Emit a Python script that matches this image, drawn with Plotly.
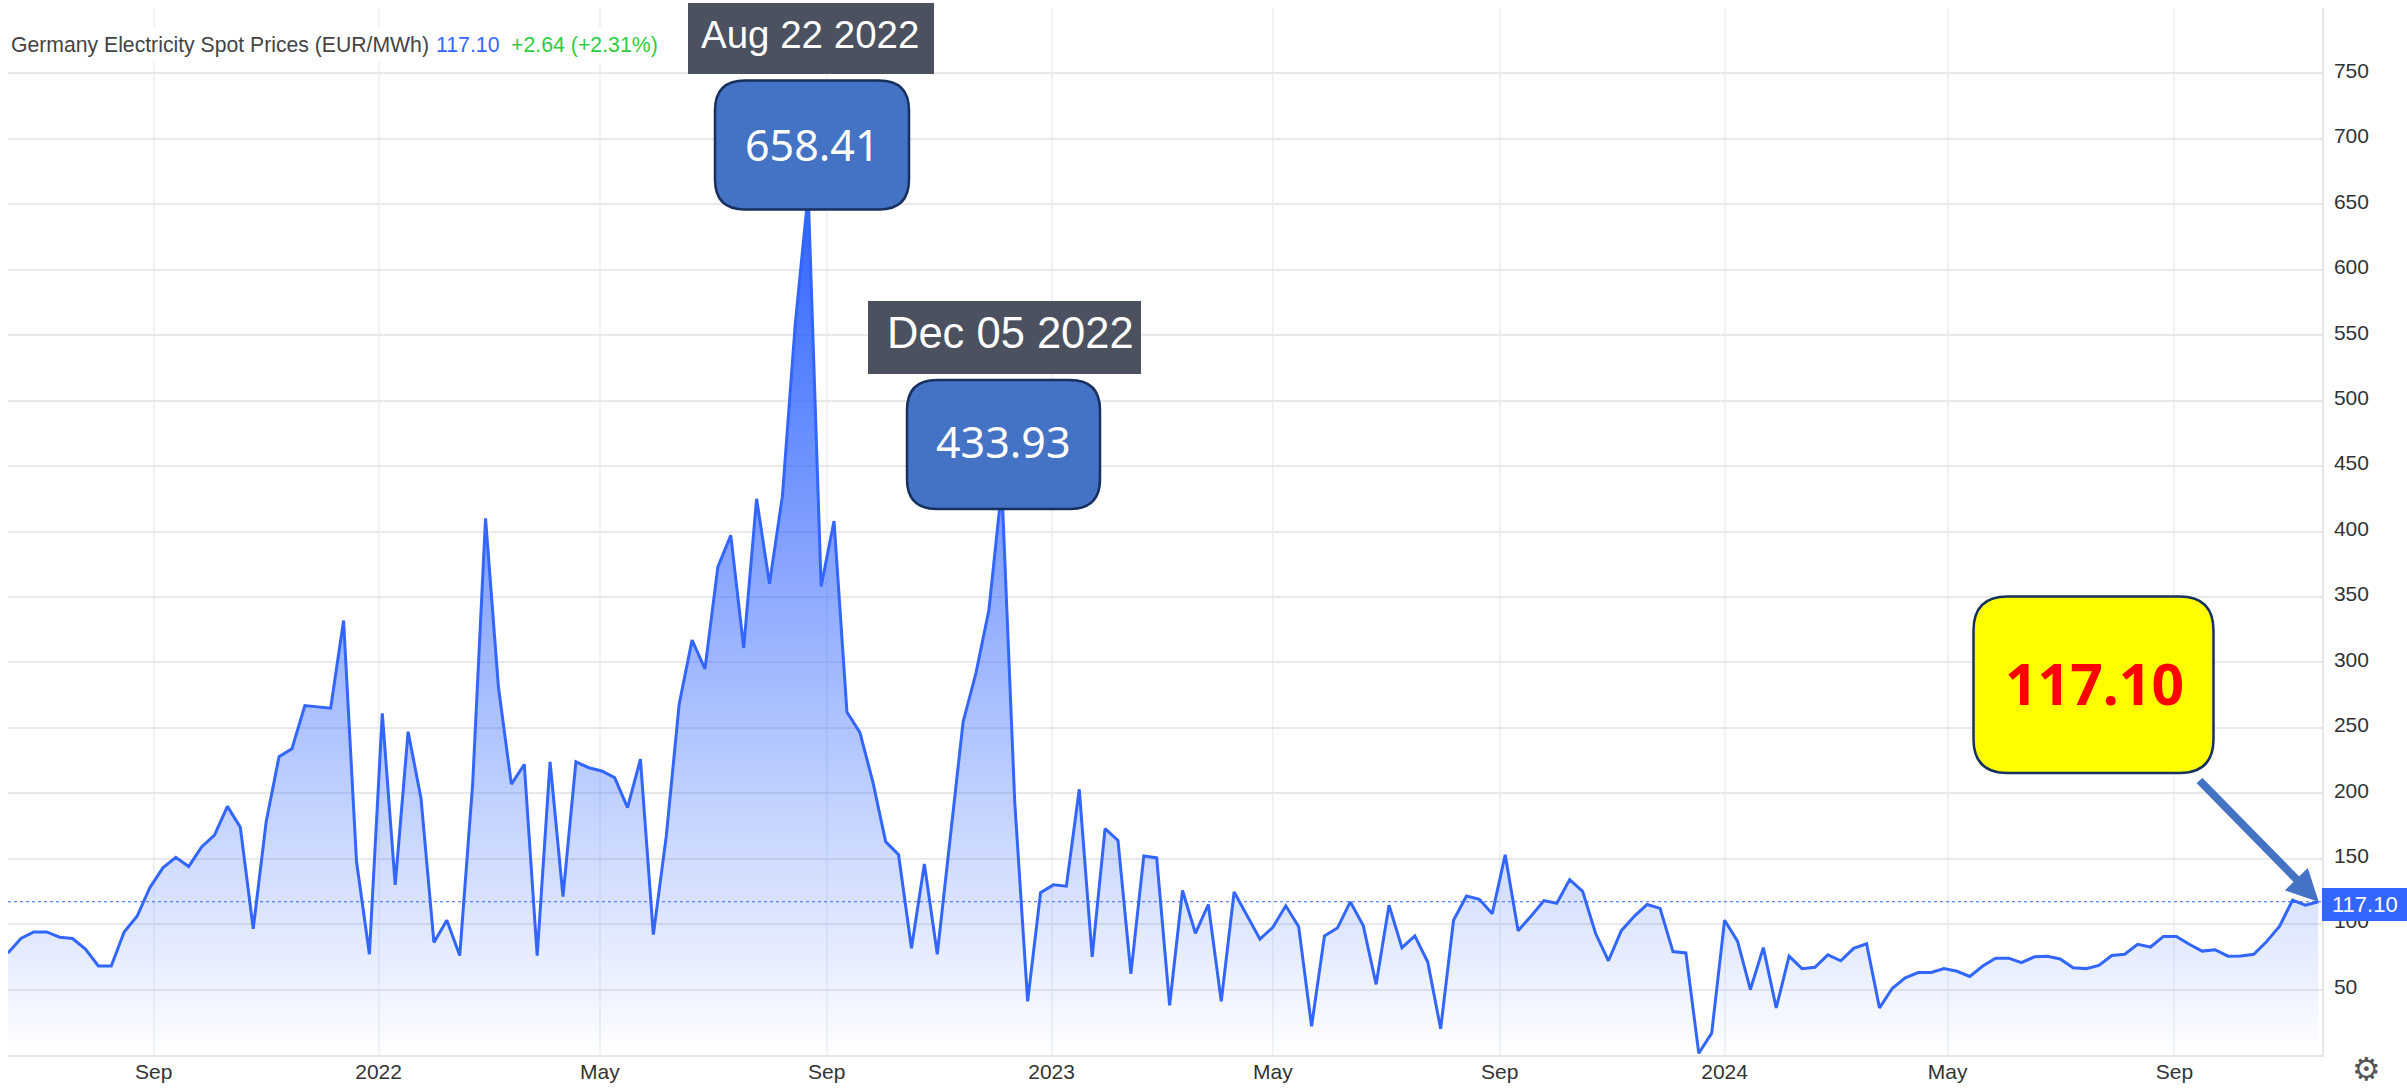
import pandas as pd
import plotly.graph_objects as go

W, H = 2407, 1088
L, R, T, B = 8, 2322, 8, 1055

prices = [
    78, 89, 94, 94, 90, 89, 81, 68, 68, 94, 106, 128, 143, 151, 144, 159, 168, 190, 174, 96.5,
    178, 228, 234, 267, 266, 265, 332, 148, 77, 261, 130, 247, 196, 86, 103, 76, 207, 410, 281, 207,
    222, 76, 224, 121, 224, 219.5, 217, 212, 189, 226, 92, 167, 268, 317, 295, 373, 397, 311, 425, 360,
    427, 559, 658.41, 358, 408, 262, 246.5, 209, 163, 153, 81.6, 146, 77, 164, 254.5, 292, 340, 433.93, 193.5, 41,
    124, 130, 129, 203, 75, 173, 164, 62, 152, 150.6, 38, 125.7, 93, 115, 41, 124.6, 106, 88.5, 97.6, 114,
    98, 22, 91, 97, 117, 99, 54, 114.5, 82, 91, 71, 20, 103, 121.5, 119, 108, 153, 95, 106, 118,
    116, 134, 125, 93, 72, 95, 106, 115, 112, 79, 78, 1.3, 16.7, 103, 87, 50, 82, 36, 75.5, 66,
    67, 76.5, 72, 81.5, 85, 36, 51, 59, 63, 63, 66, 64, 60, 68, 74, 74, 70.5, 75, 75.5, 73.4,
    66.6, 66, 68.4, 76, 77, 84.6, 82.5, 90.6, 90.6, 84.6, 79.4, 80.4, 75.5, 75.7, 77, 86.7, 98.4, 118.3, 114.46, 117.10,
]
dates = pd.date_range("2021-06-14", periods=len(prices), freq="7D")

y_ticks = [50, 100, 150, 200, 250, 300, 350, 400, 450, 500, 550, 600, 650, 700, 750]
x_ticks = ["2021-09-01", "2022-01-01", "2022-05-01", "2022-09-01", "2023-01-01", "2023-05-01",
           "2023-09-01", "2024-01-01", "2024-05-01", "2024-09-01"]
x_labels = ["Sep", "2022", "May", "Sep", "2023", "May", "Sep", "2024", "May", "Sep"]

BLUE = "#3366ff"
TEXT = "#333333"
ARIAL = "Liberation Sans, Arial, sans-serif"
NOTO = "Noto Sans, Open Sans, sans-serif"


def px(x):
    return (x - L) / (R - L)


def py(y):
    return (B - y) / (B - T)


def rounded(x0, y0, x1, y1, r):
    a, b, c, d = px(x0), px(x0 + r), px(x1 - r), px(x1)
    e, f, g, h = py(y0), py(y0 + r), py(y1 - r), py(y1)
    return (f"M {b} {e} L {c} {e} Q {d} {e} {d} {f} L {d} {g} Q {d} {h} {c} {h} "
            f"L {b} {h} Q {a} {h} {a} {g} L {a} {f} Q {a} {e} {b} {e} Z")


def box(x0, y0, x1, y1, r, fill, line="#17305f", lw=2.5):
    return dict(type="path", xref="paper", yref="paper", path=rounded(x0, y0, x1, y1, r),
                fillcolor=fill, line=dict(color=line, width=lw), layer="above")


def rect(x0, y0, x1, y1, fill):
    return dict(type="rect", xref="paper", yref="paper", x0=px(x0), x1=px(x1), y0=py(y0), y1=py(y1),
                fillcolor=fill, line=dict(width=0), layer="above")


def text(s, x, y, size, color, font=ARIAL, anchor="center", **kw):
    return dict(text=s, xref="paper", yref="paper", x=px(x), y=py(y), xanchor=anchor, yanchor="middle",
                showarrow=False, font=dict(family=font, size=size, color=color), **kw)


fig = go.Figure()
fig.add_trace(go.Scatter(
    x=dates, y=prices, mode="lines", hoverinfo="x+y",
    line=dict(color=BLUE, width=3),
    fill="tozeroy",
    fillgradient=dict(type="vertical", colorscale=[[0, "rgba(45,98,255,0.0)"], [1, "rgba(45,98,255,1)"]]),
))

shapes = [
    rect(5, 27, 660, 62, "#ffffff"),
    dict(type="line", xref="paper", yref="y", x0=0, x1=1, y0=prices[-1], y1=prices[-1],
         line=dict(color=BLUE, width=1, dash="dot"), layer="above"),
    rect(R, 888, W, 921, BLUE),
    rect(688, 3, 934, 74, "#4b515e"),
    rect(868, 301, 1141, 374, "#4b515e"),
    box(715, 80.5, 909, 209.5, 30, "#4472c4"),
    box(907, 380, 1100, 509, 30, "#4472c4"),
    box(1973.5, 596.5, 2213.5, 773, 34, "#ffff00"),
]

annotations = [
    text("Germany Electricity Spot Prices (EUR/MWh)", 9, 45, 21.2, "#444444", anchor="left"),
    text("117.10", 434, 45, 21.3, BLUE, anchor="left"),
    text("+2.64 (+2.31%)", 509, 45, 21.3, "#2ecc40", anchor="left"),
    text("Aug 22 2022", 810, 34.5, 38.5, "#ffffff"),
    text("Dec 05 2022", 1010, 332.5, 43.5, "#ffffff"),
    text("658.41", 812, 144.5, 43, "#ffffff", font=NOTO),
    text("433.93", 1003, 441.5, 43, "#ffffff", font=NOTO),
    text("<b>117.10</b>", 2094, 683, 57, "#ff0000", font=NOTO),
    text("117.10", 2365, 904, 22, "#ffffff"),
    text("⚙", 2366.5, 1069, 32, "#555555", font="DejaVu Sans"),
    dict(xref="paper", yref="paper", axref="pixel", ayref="pixel",
         x=px(2318.8), y=py(902), ax=2198 - 2318.8, ay=779 - 902,
         text="", showarrow=True, arrowhead=2, arrowsize=0.8, arrowwidth=8, arrowcolor="#4472c4"),
]

fig.update_layout(
    width=W, height=H,
    margin=dict(l=L, r=W - R, t=T, b=H - B, autoexpand=False),
    paper_bgcolor="#ffffff", plot_bgcolor="#ffffff",
    showlegend=False,
    shapes=shapes,
    annotations=annotations,
    font=dict(family=ARIAL, size=21, color=TEXT),
    xaxis=dict(
        type="date", range=["2021-06-14", "2024-11-20"],
        tickmode="array", tickvals=x_ticks, ticktext=x_labels,
        showgrid=True, gridcolor="#eff3f7", gridwidth=1.5, zeroline=False,
        showline=True, linecolor="#e6e6e6", linewidth=2,
        ticks="", ticklabelstandoff=-3,
        tickfont=dict(family=ARIAL, size=21, color=TEXT),
    ),
    yaxis=dict(
        side="right", range=[0, 800],
        tickmode="array", tickvals=y_ticks, ticktext=[str(v) for v in y_ticks],
        showgrid=True, gridcolor="#e9e9e9", gridwidth=1.5, zeroline=False,
        showline=True, linecolor="#e6e6e6", linewidth=1.5,
        ticks="outside", ticklen=6, tickcolor="rgba(0,0,0,0)", ticklabelshift=-3,
        tickfont=dict(family=ARIAL, size=21, color=TEXT),
    ),
)

fig.write_html("out.html", config={"displayModeBar": False},
               post_script="document.body.style.margin='0';document.documentElement.style.overflow='hidden';")
